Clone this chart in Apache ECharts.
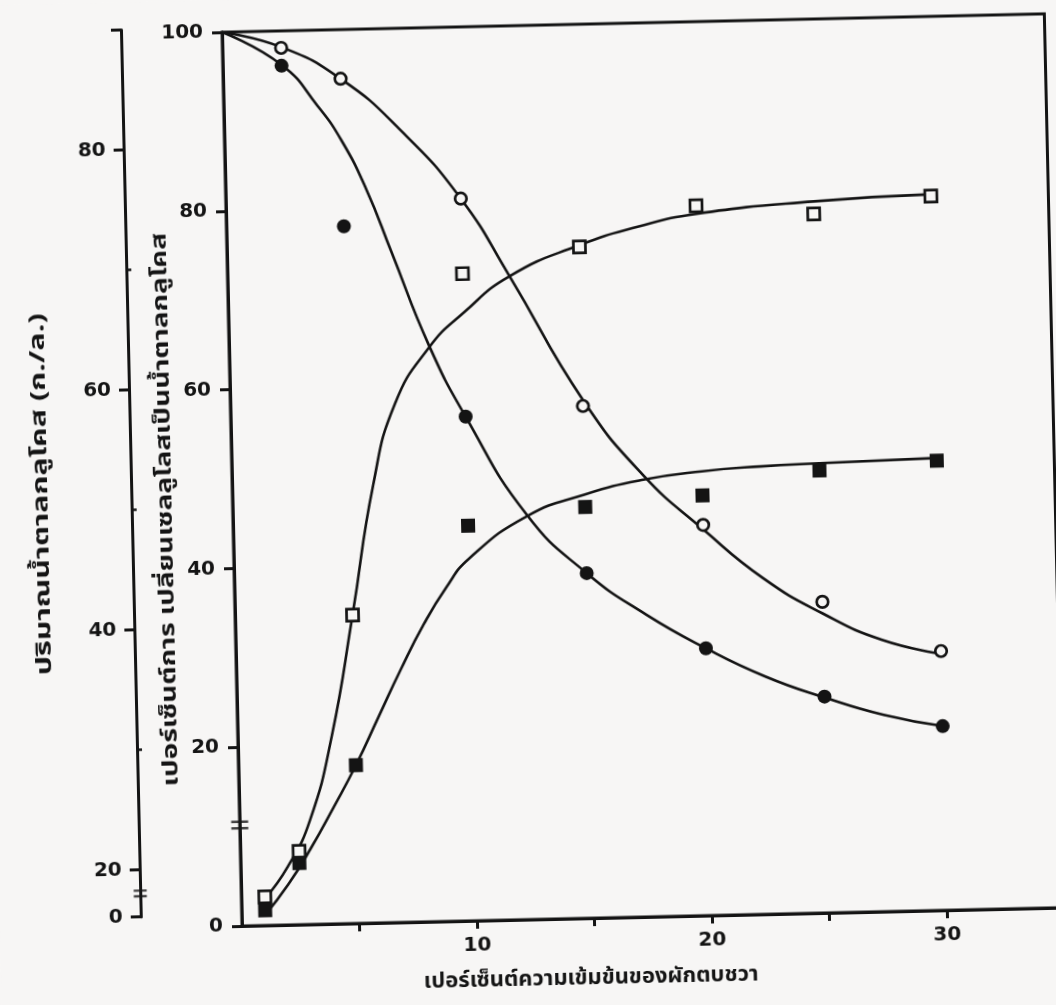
<!DOCTYPE html>
<html>
<head>
<meta charset="utf-8">
<script src="https://cdn.jsdelivr.net/npm/echarts@6.0.0/dist/echarts.min.js"></script>
<style>
html,body{margin:0;padding:0;width:1056px;height:1005px;overflow:hidden;background:#f7f6f5;}
#chart{position:absolute;left:0;top:0;width:1100px;height:1040px;transform-origin:242px 926px;transform:rotate(-1.28deg);}
</style>
</head>
<body>
<div id="chart"></div>
<script>
// ---------- data ----------
const xCircles = [2.5, 5, 10, 15, 20, 25, 30];
const openCircle = [98.1, 94.5, 80.8, 57.3, 43.7, 34.8, 29.0];
const filledCircle = [96.1, 78.0, 56.4, 38.6, 29.9, 24.2, 20.6];

const xSquares = [1, 2.5, 5, 10, 15, 20, 25, 30];
const openSquare = [3.2, 8.2, 34.5, 72.4, 75.1, 79.4, 78.2, 79.9];
const filledSquare = [1.7, 6.9, 17.7, 44.2, 46.0, 47.0, 49.5, 50.3];

// fitted curves
const curveOpenCircleX = [0, 2.5, 5, 7.5, 10, 12, 15, 17.5, 20, 22.5, 25, 27.5, 30];
const curveOpenCircleY = [100, 98.2, 94.5, 88.6, 80.8, 72.0, 58.0, 49.4, 43.2, 37.6, 33.5, 30.4, 28.7];

const curveFilledCircleX = [0, 2.5, 4, 5, 6, 7, 8.5, 10, 12.5, 15, 17.5, 20, 22.5, 25, 27.5, 30];
const curveFilledCircleY = [100, 96.2, 91.5, 87.5, 82.0, 75.0, 64.5, 56.4, 45.3, 38.6, 33.8, 29.9, 26.6, 24.1, 22.0, 20.6];

const curveOpenSquareX = [1, 2, 3, 4, 5, 6, 7, 8.5, 10, 12, 15, 17.5, 20, 25, 30];
const curveOpenSquareY = [3.0, 6.5, 11.7, 21.0, 34.5, 49.0, 58.0, 64.2, 68.0, 72.0, 75.3, 77.2, 78.5, 79.6, 80.1];

const curveFilledSquareX = [1, 2, 3, 4, 5, 6, 7, 8, 9, 10, 12.5, 15, 17.5, 20, 22.5, 25, 30];
const curveFilledSquareY = [1.2, 4.5, 8.5, 13.0, 17.7, 23.0, 28.3, 33.2, 37.3, 40.5, 45.1, 47.4, 48.9, 49.7, 50.1, 50.3, 50.6];

// axis ticks / labels
const xTickValues = [5, 10, 15, 20, 25, 30];
const xLabelValues = [10, 20, 30];
const innerYLabels = [0, 20, 40, 60, 80, 100];
const outerTickValues = [0, 20, 40, 60, 80, 90];
const outerMinorTickValues = [30, 50, 70];
const outerLabelValues = [0, 20, 40, 60, 80];
const innerBreakValue = 11.3;
const outerBreakValue = 10;

// texts
const xTitle = 'เปอร์เซ็นต์ความเข้มข้นของผักตบชวา';
const innerTitle = 'เปอร์เซ็นต์การ เปลี่ยนเซลลูโลสเป็นน้ำตาลกลูโคส';
const outerTitle = 'ปริมาณน้ำตาลกลูโคส (ก./ล.)';

// ---------- helpers ----------
const BG = '#f7f6f5';
const INK = '#141414';
const NUM_FONT = "'DejaVu Sans', sans-serif";
const THAI_FONT = "'Noto Sans Thai','Noto Sans Thai UI','Loma','Garuda','Norasi','Tlwg Typist','DejaVu Sans',sans-serif";
// outer axis is broken below 20: compress 0..20 into a short stretch
const BREAK_K = 0.19625;
function outerScale(v) { return v >= 20 ? v : 20 - (20 - v) * BREAK_K; }
function outerInverse(v) { return v >= 20 ? v : 20 - (20 - v) / BREAK_K; }
const pairs = (xs, ys) => xs.map((x, i) => [x, ys[i]]);

const breakPath = 'path://M0,0L16,0L16,2.4L0,2.4Z M0,6L16,6L16,8.4L0,8.4Z';

const curveStyle = { color: INK, width: 2.6 };
function curve(xs, ys) {
  return {
    type: 'line', data: pairs(xs, ys), smooth: 0.5,
    showSymbol: false, symbol: 'none', lineStyle: curveStyle, z: 2, silent: true
  };
}
const numLabel = { color: INK, fontFamily: NUM_FONT, fontWeight: 'bold', fontSize: 20 };

const option = {
  backgroundColor: BG,
  animation: false,
  grid: [
    { left: 242, top: 32, width: 822.5, height: 894, show: true, borderColor: INK, borderWidth: 3, backgroundColor: 'transparent' },
    { left: 141, top: 27.4, width: 10, height: 887.3, show: false }
  ],
  xAxis: [
    {
      type: 'value', gridIndex: 0, min: 0, max: 35,
      axisLine: { show: true, lineStyle: { color: INK, width: 3 } },
      axisTick: { show: true, customValues: xTickValues, length: 8, lineStyle: { color: INK, width: 3 } },
      axisLabel: Object.assign({ customValues: xLabelValues, margin: 15 }, numLabel),
      splitLine: { show: false }
    },
    { type: 'value', gridIndex: 1, min: 0, max: 1, show: false }
  ],
  yAxis: [
    {
      type: 'value', gridIndex: 0, min: 0, max: 100, interval: 20,
      axisLine: { show: true, lineStyle: { color: INK, width: 3 } },
      axisTick: { show: true, length: 10, lineStyle: { color: INK, width: 3 } },
      axisLabel: Object.assign({ customValues: innerYLabels, margin: 19 }, numLabel),
      splitLine: { show: false }
    },
    {
      type: 'value', gridIndex: 1, position: 'left', min: outerScale(0), max: 90,
      axisLine: { show: true, onZero: false, lineStyle: { color: INK, width: 3 } },
      axisTick: { show: true, customValues: outerTickValues.map(outerScale), length: 10, lineStyle: { color: INK, width: 3 } },
      axisLabel: Object.assign({
        customValues: outerLabelValues.map(outerScale), margin: 18,
        formatter: (v) => String(Math.round(outerInverse(v)))
      }, numLabel),
      splitLine: { show: false }
    },
    {
      type: 'value', gridIndex: 1, position: 'left', min: outerScale(0), max: 90,
      axisLine: { show: false, onZero: false },
      axisTick: { show: true, inside: true, customValues: outerMinorTickValues, length: 5, lineStyle: { color: INK, width: 2.5 } },
      axisLabel: { show: false },
      splitLine: { show: false }
    }
  ],
  graphic: [
    { type: 'text', x: 590, y: 988, style: { text: xTitle, font: "bold 22px " + THAI_FONT, fill: INK, align: 'center', verticalAlign: 'middle' } },
    { type: 'text', x: 177, y: 508, rotation: Math.PI / 2, scaleX: 1.33, style: { text: innerTitle, font: "bold 21px " + THAI_FONT, fill: INK, align: 'center', verticalAlign: 'middle' } },
    { type: 'text', x: 53, y: 490, rotation: Math.PI / 2, scaleX: 1.45, style: { text: outerTitle, font: "bold 21px " + THAI_FONT, fill: INK, align: 'center', verticalAlign: 'middle' } }
  ],
  series: [
    curve(curveOpenCircleX, curveOpenCircleY),
    curve(curveFilledCircleX, curveFilledCircleY),
    curve(curveOpenSquareX, curveOpenSquareY),
    curve(curveFilledSquareX, curveFilledSquareY),
    {
      type: 'scatter', data: pairs(xCircles, openCircle), symbol: 'circle', symbolSize: 11.5, z: 5,
      itemStyle: { color: BG, borderColor: INK, borderWidth: 2.7, opacity: 1 }
    },
    {
      type: 'scatter', data: pairs(xCircles, filledCircle), symbol: 'circle', symbolSize: 14, z: 5,
      itemStyle: { color: INK, opacity: 1 }
    },
    {
      type: 'scatter', data: pairs(xSquares, openSquare), symbol: 'rect', symbolSize: 12, z: 5,
      itemStyle: { color: BG, borderColor: INK, borderWidth: 2.7, opacity: 1 }
    },
    {
      type: 'scatter', data: pairs(xSquares, filledSquare), symbol: 'rect', symbolSize: 14, z: 5,
      itemStyle: { color: INK, opacity: 1 }
    },
    {
      type: 'scatter', data: [[0, innerBreakValue]], symbol: breakPath, symbolSize: [17, 9], clip: false, z: 6,
      itemStyle: { color: INK }
    },
    {
      type: 'scatter', xAxisIndex: 1, yAxisIndex: 1, data: [[0, outerScale(outerBreakValue)]],
      symbol: breakPath, symbolSize: [13, 8], clip: false, z: 6, itemStyle: { color: INK }
    }
  ]
};

const chart = echarts.init(document.getElementById('chart'), null, { renderer: 'canvas' });
chart.setOption(option);
</script>
</body>
</html>
